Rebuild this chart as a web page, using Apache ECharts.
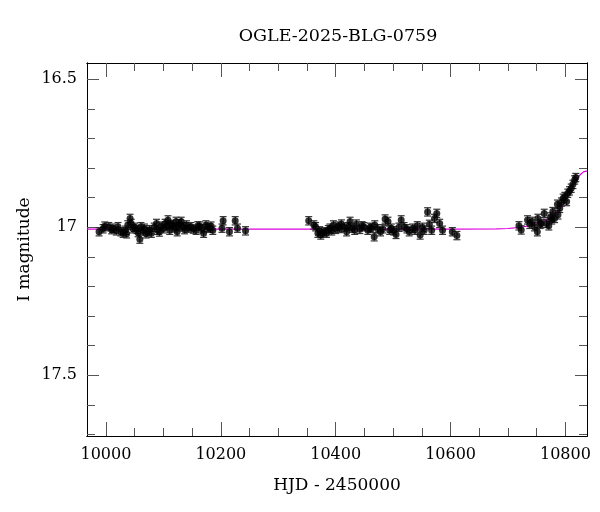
<!DOCTYPE html>
<html><head><meta charset="utf-8">
<script src="https://cdn.jsdelivr.net/npm/echarts@6/dist/echarts.min.js"></script>
<style>html,body{margin:0;padding:0;background:#fff}#c{width:600px;height:512px}</style>
</head><body><div id="c"></div>
<script>
const chartTitle = 'OGLE-2025-BLG-0759';
const xName = 'HJD - 2450000';
const yName = 'I magnitude';

const hjd = [
 9988,9995,9998,10005,10010,10012,10018,10021,10026,10030,10034,10036,10038,10042,10044,10047,10050,10054,10056,10059,
 10061,10064,10067,10070,10073,10076,10079,10084,10088,10090,10093,10096,10100,10103,10106,10108,10111,10113,10116,10119,
 10122,10124,10126,10128,10131,10134,10137,10140,10144,10148,10152,10157,10160,10163,10167,10170,10174,10177,10180,10183,
 10186,10202,10204,10215,10225,10229,10243,
 10353,10362,10365,10369,10372,10374,10377,10380,10384,10387,10390,10393,10396,10400,10404,10407,10410,10415,10419,10422,
 10425,10429,10433,10436,10442,10446,10449,10456,10460,10462,10467,10468,10473,10478,10482,10486,10491,10494,10497,10501,
 10505,10510,10514,10519,10524,10528,10534,10538,10542,10547,10551,10554,10560,10563,10567,10572,10576,10581,10586,10603,10611,
 10719,10723,10734,10738,10742,10746,10751,10752,10756,10758,10763,10767,10771,10774,10776,10778,10781,10786,10787,10790,
 10793,10796,10799,10802,10804,10807,10810,10813,10816,10818
];
const mag = [
 17.015,17.005,16.996,16.998,17.008,17.003,17.012,16.998,17.015,17.020,17.010,17.022,16.992,16.970,16.987,17.005,17.000,17.007,17.018,17.040,
 16.998,17.012,17.003,17.022,17.015,17.008,17.020,17.000,16.987,17.010,17.016,16.996,17.005,16.987,16.995,16.975,17.010,16.990,16.992,17.002,
 16.980,17.015,16.998,16.988,16.980,16.998,17.008,16.992,17.003,16.998,17.006,17.010,16.995,16.996,17.005,17.020,16.992,17.000,17.003,16.996,
 17.010,17.003,16.978,17.015,16.978,17.003,17.012,
 16.978,16.992,16.998,17.020,17.012,17.026,17.020,17.015,17.020,17.008,17.003,17.012,16.992,17.007,16.996,17.004,16.989,17.000,17.015,16.998,
 16.980,17.003,17.010,16.989,17.007,16.995,16.998,17.010,17.000,17.003,17.032,16.992,17.005,17.015,17.005,16.972,16.980,17.010,17.003,17.012,
 17.024,17.000,16.975,16.998,17.005,17.015,17.003,17.010,16.995,17.026,17.000,17.010,16.948,16.990,17.010,16.970,16.953,16.987,17.010,17.015,17.028,
 16.995,17.009,16.975,16.990,16.980,16.998,17.015,16.970,16.990,16.987,16.953,16.987,16.995,16.965,16.975,16.947,16.970,16.922,16.958,16.936,
 16.915,16.902,16.896,16.913,16.885,16.877,16.868,16.855,16.840,16.832
];
const magErr = 0.014;

const modelHjd = [9967,10600,10680,10700,10720,10740,10755,10770,10780,10787,10793,10799,10805,10810,10815,10819,10824,10828,10832,10837.5];
const modelMag = [17.006,17.006,17.005,17.004,17.000,16.994,16.985,16.970,16.955,16.945,16.930,16.913,16.893,16.874,16.855,16.840,16.826,16.818,16.812,16.810];

const xMajorTicks = [10000,10200,10400,10600,10800];
const xMinorTicks = [10000,10050,10100,10150,10200,10250,10300,10350,10400,10450,10500,10550,10600,10650,10700,10750,10800];
const yMajorTicks = [16.5,17,17.5];
const yMinorTicks = [16.5,16.6,16.7,16.8,16.9,17.0,17.1,17.2,17.3,17.4,17.5,17.6,17.7];

const X_MIN = 9967, X_MAX = 10837.5, Y_MIN = 16.445, Y_MAX = 17.705;
const FONT = 'DejaVu Serif';

function xAx(pos, ticks, len, labels, withName) {
  const a = {
    type: 'value', position: pos, min: X_MIN, max: X_MAX,
    axisLine: { show: true, onZero: false, lineStyle: { color: '#000', width: 1 } },
    axisTick: { show: true, inside: true, length: len, customValues: ticks, lineStyle: { color: '#555', width: 1 } },
    axisLabel: labels ? { show: true, customValues: ticks, fontFamily: FONT, fontSize: 16, color: '#000', margin: 11,
      formatter: v => String(v) } : { show: false },
    splitLine: { show: false }
  };
  if (withName) {
    a.name = xName; a.nameLocation = 'middle'; a.nameGap = 41; a.nameMoveOverlap = false;
    a.nameTextStyle = { fontFamily: FONT, fontSize: 17, color: '#000' };
  }
  return a;
}
function yAx(pos, ticks, len, labels, withName) {
  const a = {
    type: 'value', position: pos, inverse: true, min: Y_MIN, max: Y_MAX,
    axisLine: { show: true, onZero: false, lineStyle: { color: '#000', width: 1 } },
    axisTick: { show: true, inside: true, length: len, customValues: ticks, lineStyle: { color: '#555', width: 1 } },
    axisLabel: labels ? { show: true, customValues: ticks, fontFamily: FONT, fontSize: 16, color: '#000', margin: 10,
      formatter: v => String(Math.round(v * 10) / 10) } : { show: false },
    splitLine: { show: false }
  };
  if (withName) {
    a.name = yName; a.nameLocation = 'middle'; a.nameGap = 54; a.nameRotate = 90; a.nameMoveOverlap = false;
    a.nameTextStyle = { fontFamily: FONT, fontSize: 17, color: '#000' };
  }
  return a;
}

const pts = hjd.map((x, i) => [x, mag[i], magErr]);
const model = modelHjd.map((x, i) => [x, modelMag[i]]);

const chart = echarts.init(document.getElementById('c'), null, { renderer: 'canvas' });
chart.setOption({
  animation: false,
  backgroundColor: '#fff',
  title: { text: chartTitle, left: 333, top: 22, textAlign: 'center',
    textStyle: { fontFamily: FONT, fontSize: 17.5, fontWeight: 'normal', color: '#000' } },
  grid: { left: 87, right: 13, top: 63, bottom: 76, containLabel: false },
  xAxis: [
    xAx('bottom', xMajorTicks, 14, true, true),
    xAx('bottom', xMinorTicks, 8, false, false),
    xAx('top', xMajorTicks, 14, false, false),
    xAx('top', xMinorTicks, 8, false, false)
  ],
  yAxis: [
    yAx('left', yMajorTicks, 12, true, true),
    yAx('left', yMinorTicks, 8, false, false),
    yAx('right', yMajorTicks, 12, false, false),
    yAx('right', yMinorTicks, 8, false, false)
  ],
  series: [
    { type: 'line', data: model, showSymbol: false, symbol: 'none', clip: true,
      lineStyle: { color: '#dd00dd', width: 1.2 }, z: 1 },
    { type: 'custom', data: pts, z: 2, clip: true,
      renderItem: function (params, api) {
        const x = api.value(0), m = api.value(1), e = api.value(2);
        const p1 = api.coord([x, m - e]);
        const p2 = api.coord([x, m + e]);
        const hw = 3.5;
        const st = { stroke: '#333', lineWidth: 1.2 };
        return { type: 'group', children: [
          { type: 'line', shape: { x1: p1[0], y1: p1[1], x2: p2[0], y2: p2[1] }, style: st },
          { type: 'line', shape: { x1: p1[0] - hw, y1: p1[1], x2: p1[0] + hw, y2: p1[1] }, style: st },
          { type: 'line', shape: { x1: p2[0] - hw, y1: p2[1], x2: p2[0] + hw, y2: p2[1] }, style: st }
        ]};
      },
      encode: { x: 0, y: 1 } },
    { type: 'scatter', data: pts.map(p => [p[0], p[1]]), symbol: 'circle', symbolSize: 7,
      itemStyle: { color: '#000' }, z: 3 }
  ]
});
</script>
</body></html>
